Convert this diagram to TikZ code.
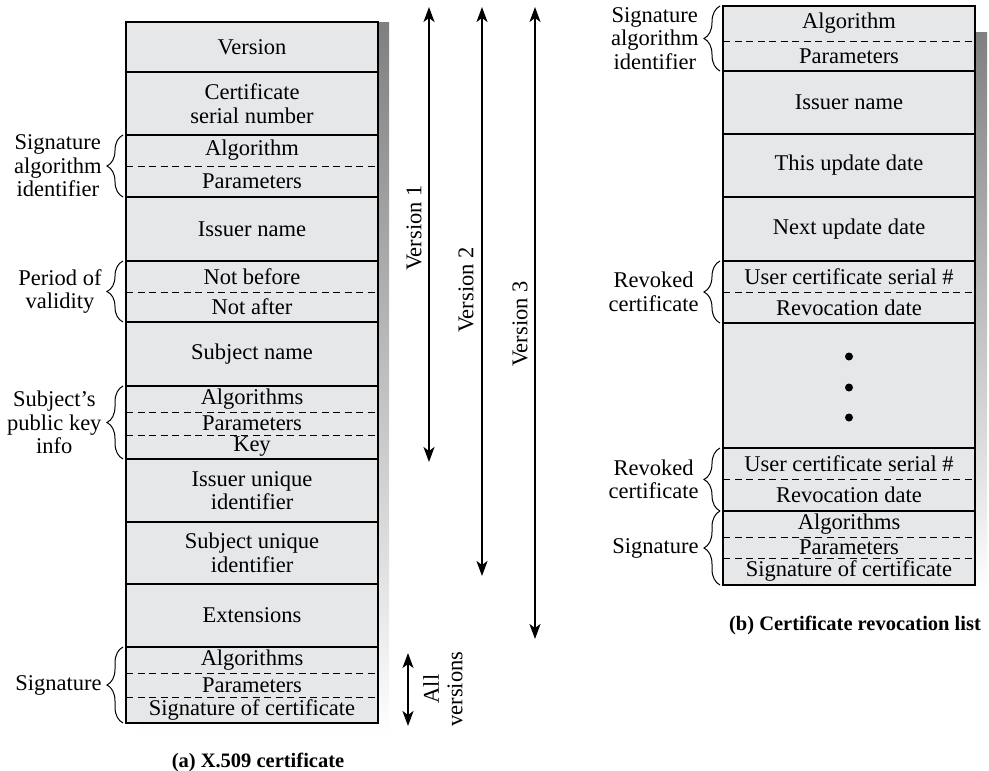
\documentclass[tikz,border=0pt]{standalone}
\usepackage{fontspec}
\setmainfont{Liberation Serif}
\usetikzlibrary{positioning,arrows.meta,decorations.pathreplacing}
\definecolor{cellgray}{HTML}{E6E7E8}
\definecolor{shade}{HTML}{77787B}

\begin{document}
\begin{tikzpicture}[x=1pt,y=-1pt,font=\fontsize{22.5}{23.5}\selectfont,
  cell/.style={fill=cellgray,minimum width=252pt,inner sep=0pt,outer sep=0pt,align=center},
  frame/.style={line width=1.9pt},
  sepline/.style={line width=1.6pt},
  dashline/.style={line width=1pt,dash pattern=on 7pt off 4.5pt},
  brace/.style={decorate,decoration={brace,amplitude=16pt},line width=1pt},
  bracelabel/.style={midway,left=21pt,inner sep=0pt,align=center},
  span/.style={line width=2pt,{Stealth[length=15pt,width=11pt,inset=4pt]}-{Stealth[length=15pt,width=11pt,inset=4pt]}},
  caption/.style={font=\fontsize{20.5}{23}\selectfont\bfseries}]
\useasboundingbox (0,0) rectangle (989,771);

% shadows
\fill[shade] (139,22) rectangle (389,736);
\fill[shade] (736,32) rectangle (987,597);

% (a) X.509 certificate
\node[cell,minimum height=50pt] (ver) at (252,47) {Version};
\node[cell,minimum height=63pt,below=0pt of ver] (serial) {Certificate\\serial number};
\node[cell,minimum height=31pt,below=0pt of serial] (alg) {Algorithm};
\node[cell,minimum height=31pt,below=0pt of alg] (par) {Parameters};
\node[cell,minimum height=64pt,below=0pt of par] (iss) {Issuer name};
\node[cell,minimum height=31pt,below=0pt of iss] (nbef) {Not before};
\node[cell,minimum height=30pt,below=0pt of nbef] (naft) {Not after};
\node[cell,minimum height=64pt,below=0pt of naft] (subj) {Subject name};
\node[cell,minimum height=26pt,below=0pt of subj] (pkalg) {Algorithms};
\node[cell,minimum height=23pt,below=0pt of pkalg] (pkpar) {Parameters};
\node[cell,minimum height=24pt,below=0pt of pkpar] (pkkey) {Key};
\node[cell,minimum height=63pt,below=0pt of pkkey] (iuid) {Issuer unique\\identifier};
\node[cell,minimum height=62pt,below=0pt of iuid] (suid) {Subject unique\\identifier};
\node[cell,minimum height=63pt,below=0pt of suid] (ext) {Extensions};
\node[cell,minimum height=26pt,below=0pt of ext] (salg) {Algorithms};
\node[cell,minimum height=24pt,below=0pt of salg] (spar) {Parameters};
\node[cell,minimum height=26pt,below=0pt of spar] (ssig) {Signature of certificate};

\foreach \c in {ver,serial,par,iss,naft,subj,pkkey,iuid,suid,ext}
  \draw[sepline] (\c.south west) -- (\c.south east);
\foreach \c in {alg,nbef,pkalg,pkpar,salg,spar}
  \draw[dashline] (\c.south west) -- (\c.south east);
\draw[frame] (ver.north west) rectangle (ssig.south east);

\draw[brace] ([xshift=-3pt]par.south west) -- ([xshift=-3pt]alg.north west)
  node[bracelabel] (lsai) {Signature\\algorithm\\identifier};
\draw[brace] ([xshift=-3pt]naft.south west) -- ([xshift=-3pt]nbef.north west)
  node[bracelabel] (lpov) {Period of\\validity};
\draw[brace] ([xshift=-3pt]pkkey.south west) -- ([xshift=-3pt]pkalg.north west)
  node[bracelabel] (lspk) {Subject’s\\public key\\info};
\draw[brace] ([xshift=-3pt]ssig.south west) -- ([xshift=-3pt]salg.north west)
  node[bracelabel] (lsig) {Signature};

% version spans
\coordinate (v1a) at (429,7);  \coordinate (v1b) at (429,462);
\coordinate (v2a) at (482,7);  \coordinate (v2b) at (482,576);
\coordinate (v3a) at (535,7);  \coordinate (v3b) at (535,639);
\coordinate (ava) at (408,653); \coordinate (avb) at (408,726);
\draw[span] (v1a) -- (v1b);
\draw[span] (v2a) -- (v2b);
\draw[span] (v3a) -- (v3b);
\draw[span] (ava) -- (avb);
\node[rotate=90] (v1lab) at (414,228) {Version 1};
\node[rotate=90] (v2lab) at (466,290) {Version 2};
\node[rotate=90] (v3lab) at (520,324) {Version 3};
\node[rotate=90,align=center] (avlab) at (443,689) {All\\versions};

\node[caption] (capa) at (258,762) {(a) X.509 certificate};

% (b) Certificate revocation list
\node[cell,minimum height=35pt] (calg) at (849,23.5) {Algorithm};
\node[cell,minimum height=30pt,below=0pt of calg] (cpar) {Parameters};
\node[cell,minimum height=63pt,below=0pt of cpar] (ciss) {Issuer name};
\node[cell,minimum height=63pt,below=0pt of ciss] (cthis) {This update date};
\node[cell,minimum height=64pt,below=0pt of cthis] (cnext) {Next update date};
\node[cell,minimum height=31pt,below=0pt of cnext] (r1ser) {User certificate serial \#};
\node[cell,minimum height=31pt,below=0pt of r1ser] (r1date) {Revocation date};
\node[cell,minimum height=125pt,below=0pt of r1date] (cdots) {};
\node[cell,minimum height=31pt,below=0pt of cdots] (r2ser) {User certificate serial \#};
\node[cell,minimum height=32pt,below=0pt of r2ser] (r2date) {Revocation date};
\node[cell,minimum height=26pt,below=0pt of r2date] (calgs) {Algorithms};
\node[cell,minimum height=21pt,below=0pt of calgs] (cpars) {Parameters};
\node[cell,minimum height=27pt,below=0pt of cpars] (csig) {Signature of certificate};

\foreach \y in {-29,2,32}
  \fill ([yshift=-\y pt]cdots.center) circle (4pt);

\foreach \c in {cpar,ciss,cthis,cnext,r1date,cdots,r2date}
  \draw[sepline] (\c.south west) -- (\c.south east);
\foreach \c in {calg,r1ser,r2ser,calgs,cpars}
  \draw[dashline] (\c.south west) -- (\c.south east);
\draw[frame] (calg.north west) rectangle (csig.south east);

\draw[brace] ([xshift=-3pt]cpar.south west) -- ([xshift=-3pt]calg.north west)
  node[bracelabel] (rsai) {Signature\\algorithm\\identifier};
\draw[brace] ([xshift=-3pt]r1date.south west) -- ([xshift=-3pt]r1ser.north west)
  node[bracelabel] (rrc1) {Revoked\\certificate};
\draw[brace] ([xshift=-3pt]r2date.south west) -- ([xshift=-3pt]r2ser.north west)
  node[bracelabel] (rrc2) {Revoked\\certificate};
\draw[brace] ([xshift=-3pt]csig.south west) -- ([xshift=-3pt]calgs.north west)
  node[bracelabel] (rsig) {Signature};

\node[caption] (capb) at (855,625) {(b) Certificate revocation list};
\end{tikzpicture}
\end{document}
